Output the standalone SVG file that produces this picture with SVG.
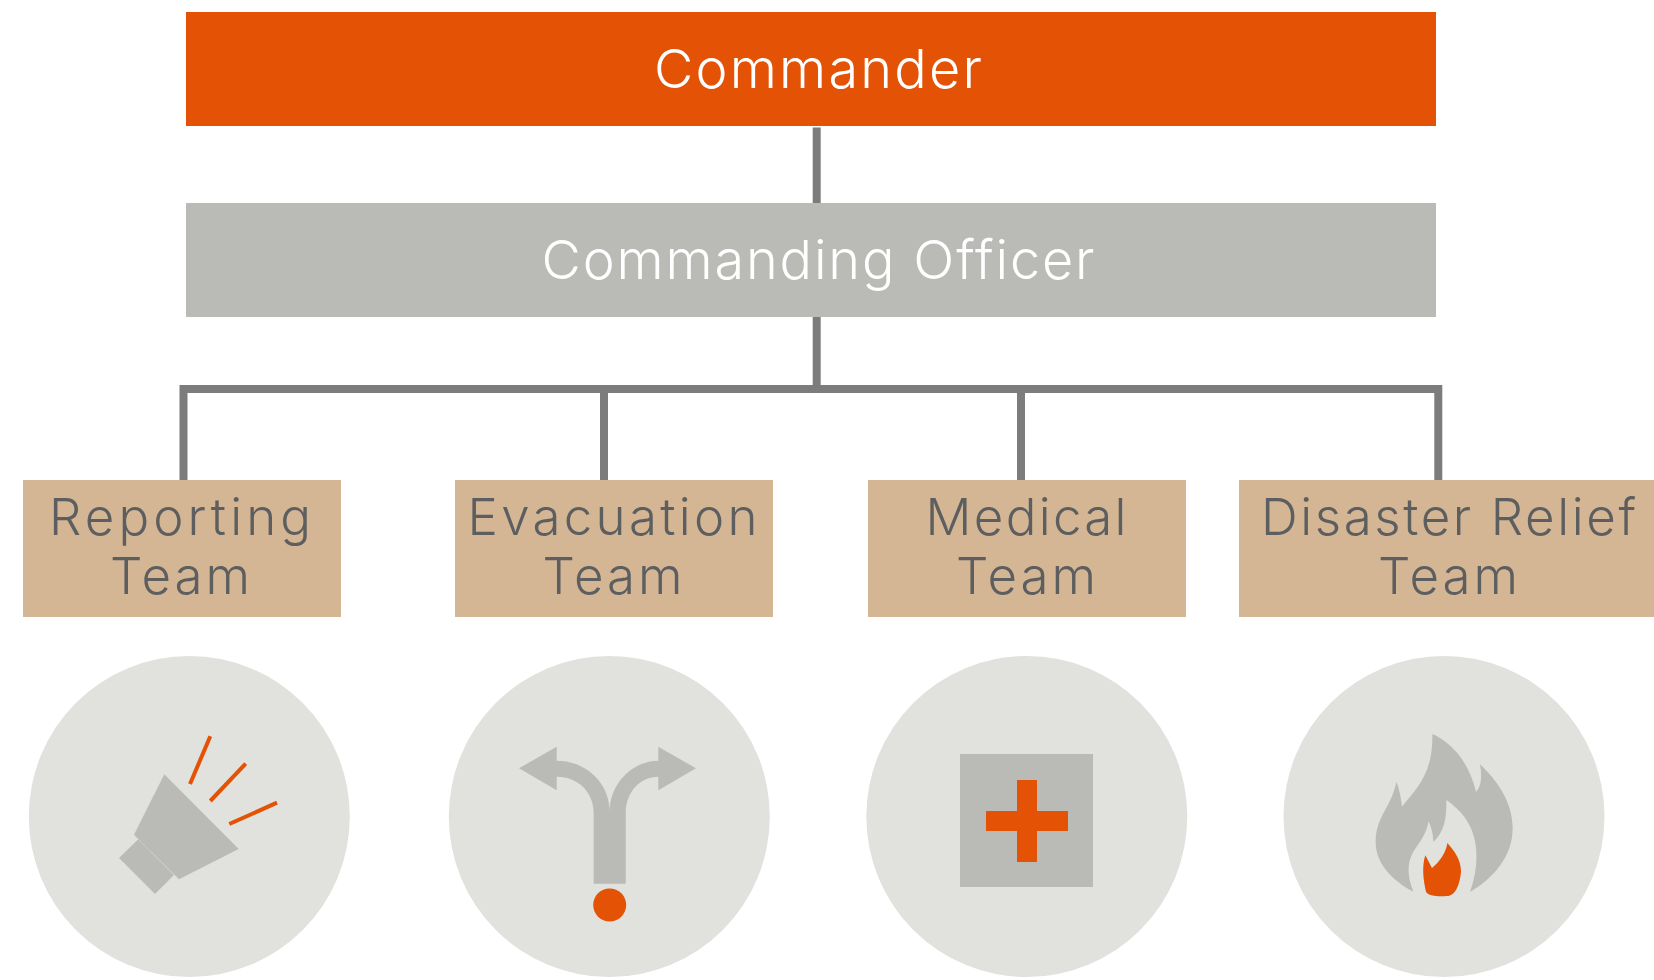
<svg xmlns="http://www.w3.org/2000/svg" width="1654" height="980" viewBox="0 0 1654 980">
<style>
.o{fill:#e35205}.g{fill:#babbb6}.c{fill:#e1e2de}.t{fill:#d4b695}
.w,.d{font-family:"Inter","Lato","Liberation Sans",sans-serif;font-weight:300;text-anchor:middle}
.w{fill:#fff;font-size:54px}.d{fill:#5d5e5f;font-size:51px}
.l{fill:none;stroke:#7b7c7b;stroke-width:8}
.r{stroke:#e35205;stroke-width:4;fill:none}
</style>
<g id="connectors">
<path class="l" d="M816.700 127.500V203M816.700 317V389M183.500 480V389H1438.300V480M604 389V480M1021 389V480"/>
</g>
<g id="commander"><rect class="o" x="186" y="12" width="1250" height="114"/><text class="w" x="818" y="88" textLength="328" lengthAdjust="spacing">Commander</text></g>
<g id="officer"><rect class="g" x="186" y="203" width="1250" height="114"/><text class="w" x="818" y="279" textLength="553" lengthAdjust="spacing">Commanding Officer</text></g>
<g id="reporting"><rect class="t" x="23" y="480" width="318" height="137"/><text class="d" x="180" y="535" textLength="262" lengthAdjust="spacing">Reporting</text><text class="d" x="180" y="594" textLength="140" lengthAdjust="spacing">Team</text></g>
<g id="evacuation"><rect class="t" x="455" y="480" width="318" height="137"/><text class="d" x="612.500" y="535" textLength="290" lengthAdjust="spacing">Evacuation</text><text class="d" x="612.500" y="594" textLength="140" lengthAdjust="spacing">Team</text></g>
<g id="medical"><rect class="t" x="868" y="480" width="318" height="137"/><text class="d" x="1026" y="535" textLength="201" lengthAdjust="spacing">Medical</text><text class="d" x="1026" y="594" textLength="140" lengthAdjust="spacing">Team</text></g>
<g id="disaster"><rect class="t" x="1239" y="480" width="415" height="137"/><text class="d" x="1448.500" y="535" textLength="375" lengthAdjust="spacing">Disaster Relief</text><text class="d" x="1448" y="594" textLength="140" lengthAdjust="spacing">Team</text></g>
<g id="icon-reporting"><circle class="c" cx="189.300" cy="816.500" r="160.500"/>
<path class="g" d="M164.300 774.300L238.700 849L179 879.300L134 834.700Z"/><path class="g" d="M138.300 839.300L174 875L155 894L119 858Z"/>
<path class="r" d="M210.300 736.300L190 784M245.700 763.700L210.300 801M277 802.700L229.300 824"/></g>
<g id="icon-evacuation"><circle class="c" cx="609.300" cy="816.500" r="160.500"/>
<path class="g" d="M519 768.300L556.700 746.700V760.700C586 760.700 609.700 783 609.700 811.700C609.700 783 633 760.700 658.300 760.700V746.700L696 768.300L658.300 790.300V776.700C640 776.700 625.700 792 625.700 813.300V883.700H593.700V813.300C593.700 792 578 776.700 556.700 776.700V790.300Z"/>
<circle class="o" cx="609.700" cy="905" r="16.500"/></g>
<g id="icon-medical"><circle class="c" cx="1026.800" cy="816.500" r="160.500"/>
<rect class="g" x="960" y="754" width="133" height="133"/>
<path class="o" d="M1017 780H1037V811H1068V831H1037V862H1017V831H986V811H1017Z"/></g>
<g id="icon-disaster"><circle class="c" cx="1444" cy="816.500" r="160.500"/>
<g transform="translate(1350 720) scale(.33333)">
<path class="g" d="M247,42 C300,65 355,120 378,215 C395,200 396,165 390,133 C440,180 488,245 488,325 C488,410 430,475 360,516 C385,445 385,380 365,330 C350,290 320,262 289,240 C290,290 285,335 250,366 C250,345 245,325 236,304 C228,345 210,365 190,395 C170,430 172,470 190,515 C125,480 77,430 77,365 C77,290 125,260 139,186 C148,205 153,235 156,260 C200,205 250,160 247,42 Z"/>
<path class="o" d="M292,369 C315,395 333,420 333,455 C330,490 318,528 290,528 C265,530 235,528 228,515 C220,480 215,440 226,406 L246,444 C268,425 288,400 292,369Z"/>
</g></g>
</svg>
